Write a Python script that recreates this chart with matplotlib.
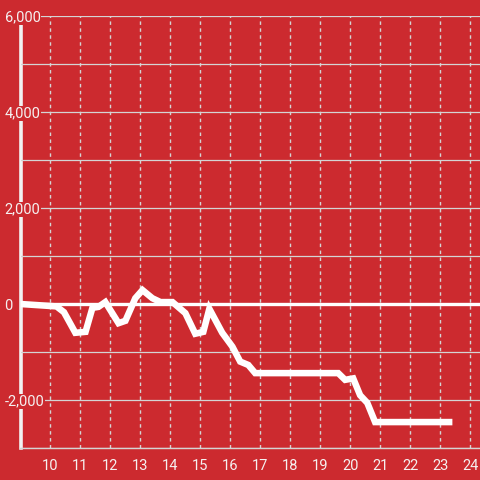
import matplotlib

matplotlib.use("Agg")

import matplotlib.pyplot as plt
from matplotlib.ticker import FuncFormatter, MultipleLocator

# hour of day vs balance
hours = [9.0, 10.2, 10.45, 10.83, 11.17, 11.4, 11.6, 11.83, 12.27, 12.5,
         12.83, 13.07, 13.4, 13.67, 14.07, 14.5, 14.83, 15.1, 15.3, 15.73,
         16.07, 16.33, 16.6, 16.83, 19.6, 19.83, 20.1, 20.33, 20.57, 20.83,
         23.3]
balance = [0, -50, -170, -600, -580, -80, -60, 40, -400, -350,
           120, 290, 120, 40, 40, -190, -620, -580, -100, -600,
           -890, -1200, -1270, -1440, -1440, -1580, -1550, -1900, -2060, -2460,
           -2460]

x_ticks = list(range(10, 25))
y_major = [-2000, 0, 2000, 4000, 6000]

bg = "#cc2a2f"
grid = "#d4d4d4"
text = "#f5f0f0"

plt.rcParams["font.family"] = ["Roboto", "DejaVu Sans"]

fig = plt.figure(figsize=(4.8, 4.8), dpi=100, facecolor=bg)
ax = fig.add_axes([20.5 / 480, 32 / 480, 1 - 20.5 / 480, 432 / 480])
ax.set_facecolor(bg)

ax.set_xlim(9, 24.33)
ax.set_ylim(-3000, 6000)

ax.set_xticks(x_ticks)
ax.set_yticks(y_major)
ax.yaxis.set_minor_locator(MultipleLocator(1000))
ax.yaxis.set_major_formatter(FuncFormatter(lambda v, _: f"{int(v):,}"))

ax.grid(axis="x", which="major", color=grid, lw=1.0, linestyle=(0, (2.5, 2.5)))
ax.grid(axis="y", which="both", color=grid, lw=0.9)
ax.axhline(0, color="white", lw=2.4, zorder=1.8)

ax.plot(hours, balance, color="white", lw=4.7, solid_joinstyle="miter",
        solid_capstyle="projecting", zorder=3)

for side in ("top", "right"):
    ax.spines[side].set_visible(False)
ax.spines["left"].set_color("#f2f2f2")
ax.spines["left"].set_linewidth(2.6)
ax.spines["left"].set_zorder(1)
ax.spines["bottom"].set_color(grid)
ax.spines["bottom"].set_linewidth(1.0)

ax.tick_params(axis="both", which="both", length=0, labelcolor=text, labelsize=10.5)
ax.tick_params(axis="x", pad=8)
ax.tick_params(axis="y", pad=11.5)
for label in ax.get_yticklabels():
    label.set_horizontalalignment("left")
    label.set_bbox(dict(facecolor=bg, edgecolor="none", pad=0.5))

fig.savefig("out.png", dpi=100, facecolor=bg)
plt.close(fig)
